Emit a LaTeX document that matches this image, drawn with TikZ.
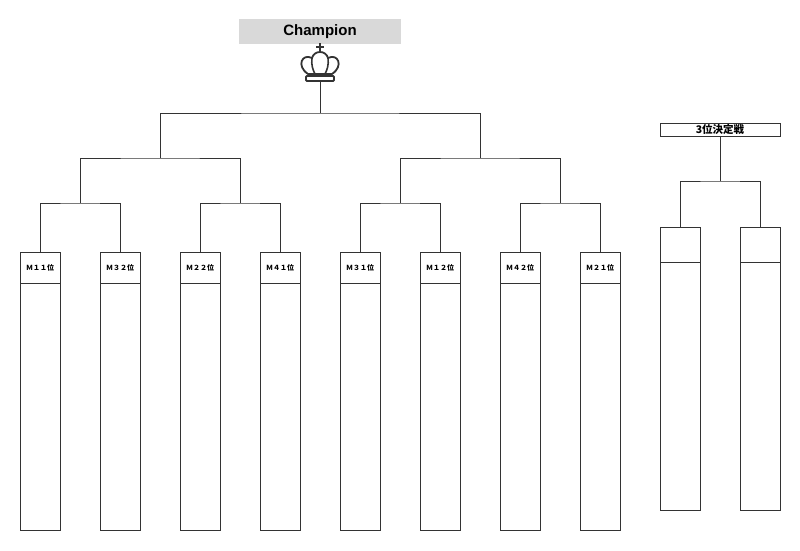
\documentclass[tikz,border=0pt]{standalone}
\usepackage{fontspec}
\setmainfont{Liberation Sans}
\newfontfamily\jp{Noto Sans CJK JP}
\usepackage{tikz}
\usetikzlibrary{positioning}
\usepackage{xcolor}
\definecolor{titlegray}{HTML}{D9D9D9}
\definecolor{linegray}{HTML}{333333}

\begin{document}
\begin{tikzpicture}[x=1pt,y=-1pt,line width=1pt,draw=linegray,
  head/.style={draw=linegray,anchor=north,minimum width=40pt,minimum height=31pt,
    inner sep=0pt,outer sep=0pt,font=\jp\bfseries\fontsize{7}{8}\selectfont},
  body/.style={draw=linegray,minimum width=40pt,minimum height=247pt,inner sep=0pt,outer sep=0pt},
  thead/.style={head,minimum height=35pt},
  tbody/.style={body,minimum height=248pt}]
  \useasboundingbox (0,0) rectangle (800,550);

  \node[fill=titlegray,minimum width=162pt,minimum height=25pt,inner sep=0pt,
    font=\bfseries\fontsize{15}{17}\selectfont] (champ) at (320,31.5) {Champion};
  \node[draw=linegray,fill=white,minimum width=120pt,minimum height=13pt,inner sep=0pt,
    font=\jp\bfseries\fontsize{10.5}{11}\selectfont] (third) at (720,129.5) {3位決定戦};

  \node[head] (m1) at (40,252) {Ｍ１１位};
  \node[body,below=0pt of m1] (b1) {};
  \node[head] (m2) at (120,252) {Ｍ３２位};
  \node[body,below=0pt of m2] (b2) {};
  \node[head] (m3) at (200,252) {Ｍ２２位};
  \node[body,below=0pt of m3] (b3) {};
  \node[head] (m4) at (280,252) {Ｍ４１位};
  \node[body,below=0pt of m4] (b4) {};
  \node[head] (m5) at (360,252) {Ｍ３１位};
  \node[body,below=0pt of m5] (b5) {};
  \node[head] (m6) at (440,252) {Ｍ１２位};
  \node[body,below=0pt of m6] (b6) {};
  \node[head] (m7) at (520,252) {Ｍ４２位};
  \node[body,below=0pt of m7] (b7) {};
  \node[head] (m8) at (600,252) {Ｍ２１位};
  \node[body,below=0pt of m8] (b8) {};

  \node[thead] (p1) at (680,227) {};
  \node[tbody,below=0pt of p1] (q1) {};
  \node[thead] (p2) at (760,227) {};
  \node[tbody,below=0pt of p2] (q2) {};

  \coordinate (j1) at (80,203);
  \coordinate (j2) at (240,203);
  \coordinate (j3) at (400,203);
  \coordinate (j4) at (560,203);
  \coordinate (k1) at (160,158);
  \coordinate (k2) at (480,158);
  \coordinate (top) at (320,113);
  \coordinate (tj) at (720,181);
  \coordinate (crown) at (320,81);

  \draw (m1.north) |- (j1) -| (m2.north);
  \draw (m3.north) |- (j2) -| (m4.north);
  \draw (m5.north) |- (j3) -| (m6.north);
  \draw (m7.north) |- (j4) -| (m8.north);
  \draw (j1) |- (k1) -| (j2);
  \draw (j3) |- (k2) -| (j4);
  \draw (k1) |- (top) -| (k2);
  \draw (top) -- (crown);
  \draw (p1.north) |- (tj) -| (p2.north);
  \draw (tj) -- (third.south);

  \draw[line width=1.6pt] (320,43) -- (320,51) (316,47) -- (324,47);
  \draw[line width=1.8pt,line join=round] (308,74) .. controls (296,66) and (302,53) .. (312,58)
    .. controls (314,50) and (326,50) .. (328,58)
    .. controls (338,53) and (344,66) .. (332,74) -- cycle;
  \draw[line width=1.6pt] (312,58) .. controls (311,65) and (313,70) .. (315,74);
  \draw[line width=1.6pt] (328,58) .. controls (329,65) and (327,70) .. (325,74);
  \draw[line width=1.8pt,rounded corners=1pt] (306,76) rectangle (334,81);
\end{tikzpicture}
\end{document}
